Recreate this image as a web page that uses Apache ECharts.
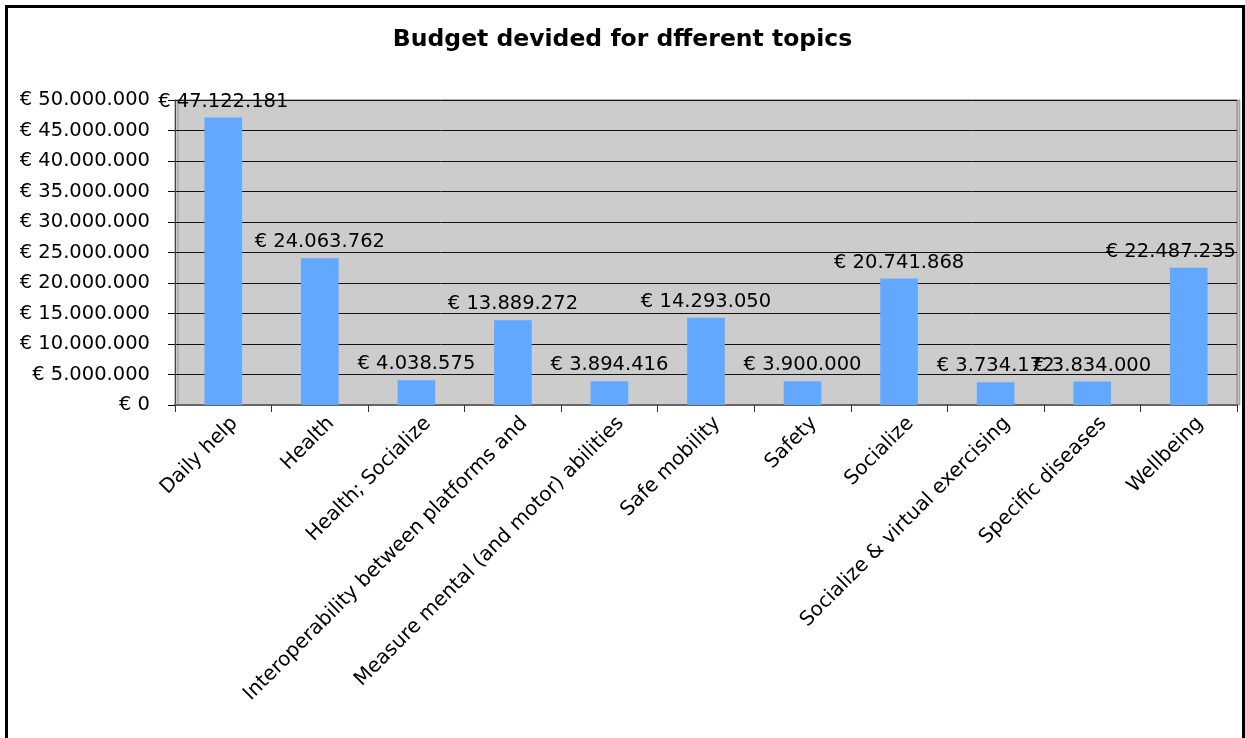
<!DOCTYPE html>
<html>
<head>
<meta charset="utf-8">
<title>Budget devided for dfferent topics</title>
<script src="https://cdn.jsdelivr.net/npm/echarts@6/dist/echarts.min.js"></script>
<style>
  html, body { margin: 0; padding: 0; background: #ffffff; }
  #chart { width: 1245px; height: 738px; }
</style>
</head>
<body>
<div id="chart"></div>
<script>
// Budget per topic, in euros
const categories = [
  'Daily help',
  'Health',
  'Health; Socialize',
  'Interoperability between platforms and',
  'Measure mental (and motor) abilities',
  'Safe mobility',
  'Safety',
  'Socialize',
  'Socialize & virtual exercising',
  'Specific diseases',
  'Wellbeing'
];
const budgets = [
  47122181, 24063762, 4038575, 13889272, 3894416, 14293050,
  3900000, 20741868, 3734172, 3834000, 22487235
];
const yTicks = { min: 0, max: 50000000, step: 5000000 };

// "€ 1.234.567" style: dots as thousands separators
function euro(v) {
  const s = String(Math.round(v)).replace(/\B(?=(\d{3})+(?!\d))/g, '.');
  return '€ ' + s;
}

const FONT = 'DejaVu Sans';
const GRID = { left: 175, right: 8, top: 100, bottom: 333 };
const PLOT_RIGHT = 1245 - GRID.right;

const chart = echarts.init(document.getElementById('chart'), null, { renderer: 'canvas' });

chart.setOption({
  backgroundColor: '#ffffff',
  animation: false,
  title: {
    text: 'Budget devided for dfferent topics',
    left: 'center',
    top: 23,
    textStyle: {
      fontFamily: FONT,
      fontSize: 23.5,
      fontWeight: 'bold',
      color: '#000000'
    }
  },
  graphic: [{
    type: 'rect',
    left: 4, top: 4,
    shape: { width: 1237, height: 800 },
    style: { fill: 'none', stroke: '#000000', lineWidth: 3 },
    z: 100
  }],
  grid: Object.assign({
    show: true,
    backgroundColor: '#cccccc',
    borderColor: '#888888',
    borderWidth: 1,
    shadowColor: 'rgba(0,0,0,0.25)',
    shadowBlur: 0,
    shadowOffsetX: 3,
    shadowOffsetY: 0
  }, GRID),
  xAxis: {
    type: 'category',
    data: categories,
    axisLine: { show: true, lineStyle: { color: '#666666', width: 2 } },
    axisTick: { show: true, length: 7, alignWithLabel: false, lineStyle: { color: '#333333' } },
    axisLabel: {
      interval: 0,
      rotate: 45,
      margin: 4,
      verticalAlign: 'top',
      lineHeight: 32,
      fontFamily: FONT,
      fontSize: 20,
      color: '#000000'
    },
    splitLine: { show: false }
  },
  yAxis: {
    type: 'value',
    min: yTicks.min,
    max: yTicks.max,
    interval: yTicks.step,
    axisLine: { show: true, lineStyle: { color: '#444444', width: 1 } },
    axisTick: { show: true, length: 7, lineStyle: { color: '#000000' } },
    axisLabel: {
      margin: 25,
      formatter: euro,
      fontFamily: FONT,
      fontSize: 19.5,
      color: '#000000'
    },
    splitLine: { show: true, lineStyle: { color: '#111111', width: 1 } }
  },
  series: [{
    type: 'bar',
    data: budgets,
    barCategoryGap: '61%',
    itemStyle: { color: '#62a8ff' },
    label: {
      show: true,
      position: 'top',
      distance: 6,
      formatter: p => euro(p.value),
      fontFamily: FONT,
      fontSize: 19.5,
      color: '#000000'
    },
    // keep value labels inside the plot's right edge
    labelLayout: function (params) {
      const r = params.labelRect;
      const over = r.x + r.width - (PLOT_RIGHT - 1);
      if (over > 0) {
        return { dx: -over };
      }
      return {};
    }
  }]
});
</script>
</body>
</html>
